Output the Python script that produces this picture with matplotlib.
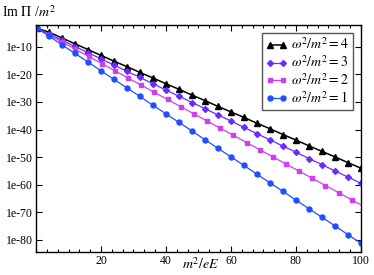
import numpy as np
import matplotlib
matplotlib.use('Agg')
import matplotlib.pyplot as plt
from matplotlib.ticker import MultipleLocator, FixedLocator

plt.rcParams['font.family'] = ['Liberation Serif', 'DejaVu Serif']
plt.rcParams['mathtext.fontset'] = 'stix'

# x grid of the markers (m^2/eE)
x4 = [0.3, 4, 8, 12, 16, 20, 24, 28, 32, 36, 40, 44, 48, 52, 56, 60,
      64, 68, 72, 76, 80, 84, 88, 92, 96, 100]
x2 = [0.3, 4.05, 8.1, 12.15, 16.2, 20.25, 24.3, 28.35, 32.4, 36.45, 40.5,
      44.55, 48.6, 52.65, 56.7, 60.75, 64.8, 68.85, 72.9, 76.95, 81.0,
      85.05, 89.1, 93.15, 97.2, 101.25]

# log10 of Im Pi / m^2
logW4 = [-3.3, -4.7, -6.8, -8.9, -11.0, -13.1, -15.2, -17.2, -19.3, -21.3,
         -23.4, -25.4, -27.5, -29.5, -31.6, -33.6, -35.6, -37.7, -39.7,
         -41.8, -43.8, -45.9, -47.9, -49.9, -52.0, -54.0]
logW3 = [-3.3, -5.4, -7.6, -9.9, -12.1, -14.4, -16.6, -18.9, -21.1, -23.4,
         -25.7, -27.9, -30.2, -32.4, -34.7, -36.9, -39.2, -41.5, -43.7,
         -46.0, -48.2, -50.5, -52.7, -55.0, -57.2, -59.5]
logW2 = [-3.3, -5.7, -8.3, -10.9, -13.5, -16.1, -18.7, -21.3, -23.9, -26.5,
         -29.1, -31.7, -34.3, -36.9, -39.5, -42.1, -44.7, -47.3, -49.9,
         -52.5, -55.1, -57.7, -60.3, -62.9, -65.5, -68.1]
logW1 = [-3.3, -6.1, -9.3, -12.4, -15.5, -18.7, -21.8, -24.9, -28.0, -31.2,
         -34.3, -37.4, -40.5, -43.7, -46.8, -49.9, -53.0, -56.2, -59.3,
         -62.4, -65.6, -68.7, -71.8, -74.9, -78.1, -81.2]

fig = plt.figure(figsize=(3.74, 2.75), dpi=100)
ax = fig.add_axes([0.0963, 0.0836, 0.8687, 0.8254])

ax.plot(x4, 10.0**np.array(logW4), '-^', color='black', lw=1.1, ms=3.9,
        label=r'$\omega^2/m^2 = \mathit{4}$')
ax.plot(x4, 10.0**np.array(logW3), '-D', color='#6a2cff', lw=0.9, ms=3.0,
        label=r'$\omega^2/m^2 = \mathit{3}$')
ax.plot(x2, 10.0**np.array(logW2), '-s', color='#cc40ee', lw=0.9, ms=3.0,
        label=r'$\omega^2/m^2 = \mathit{2}$')
ax.plot(x4, 10.0**np.array(logW1), '-o', color='#1f50ff', lw=0.9, ms=3.6,
        label=r'$\omega^2/m^2 = \mathit{1}$')

ax.set_yscale('log')
ax.set_xlim(0, 100)
ax.set_ylim(10**-84.4, 10**-2.1)

ax.xaxis.set_major_locator(FixedLocator([20, 40, 60, 80, 100]))
ax.xaxis.set_minor_locator(MultipleLocator(20 / 6))
ytk = [10.0**-k for k in range(10, 90, 10)]
ax.yaxis.set_major_locator(FixedLocator(ytk))
ax.yaxis.set_minor_locator(FixedLocator([]))
ax.set_yticklabels(['1e-%d' % k for k in range(10, 90, 10)])

ax.tick_params(which='both', direction='in', top=True, right=True,
               labelsize=8.5, pad=2)
ax.tick_params(which='major', length=4.5, width=0.8)
ax.tick_params(which='minor', length=2.5, width=0.8)
for s in ax.spines.values():
    s.set_linewidth(1.0)

fig.text(0.535, 0.01, r'$m^2/eE$', fontsize=10, ha='center', va='bottom')
fig.text(0.005, 0.955, r'Im $\Pi$ /$m^2$', fontsize=10, va='center')

leg = ax.legend(loc='upper right', bbox_to_anchor=(0.977, 0.967),
                borderaxespad=0, fancybox=False, framealpha=1,
                fontsize=10, numpoints=2, handlelength=1.5,
                handletextpad=0.3, labelspacing=0.15, borderpad=0.3)
leg.get_frame().set_edgecolor('#555555')
leg.get_frame().set_linewidth(1.0)

plt.savefig('out.png', dpi=100)
